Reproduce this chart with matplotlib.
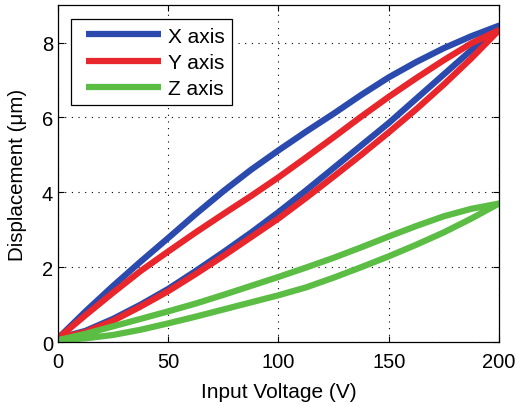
import numpy as np
import matplotlib
matplotlib.use('Agg')
import matplotlib.pyplot as plt
from matplotlib.legend_handler import HandlerLine2D

plt.rcParams['font.family'] = ['Liberation Sans', 'DejaVu Sans']

# voltage sweep, up branch then down branch
volt_up = [0, 12.5, 25, 37.5, 50, 62.5, 75, 87.5, 100, 112.5, 125, 137.5, 150, 162.5, 175, 187.5, 200]
volt_down = volt_up[::-1]

x_up = [0.1, 0.3, 0.62, 1.0, 1.42, 1.9, 2.4, 2.92, 3.47, 4.05, 4.65, 5.25, 5.85, 6.5, 7.15, 7.8, 8.45]
x_down = [8.45, 8.17, 7.85, 7.48, 7.07, 6.6, 6.1, 5.62, 5.12, 4.6, 4.03, 3.42, 2.78, 2.15, 1.5, 0.82, 0.1]

y_up = [0.1, 0.27, 0.57, 0.95, 1.36, 1.82, 2.3, 2.8, 3.3, 3.85, 4.42, 5.0, 5.6, 6.22, 6.88, 7.58, 8.33]
y_down = [8.33, 7.98, 7.53, 7.05, 6.55, 6.02, 5.47, 4.93, 4.4, 3.9, 3.42, 2.93, 2.42, 1.9, 1.32, 0.72, 0.1]

z_up = [0.05, 0.1, 0.19, 0.33, 0.5, 0.68, 0.87, 1.06, 1.25, 1.46, 1.72, 2.0, 2.29, 2.6, 2.93, 3.3, 3.7]
z_down = [3.7, 3.56, 3.36, 3.1, 2.82, 2.53, 2.25, 1.99, 1.74, 1.5, 1.26, 1.03, 0.82, 0.62, 0.42, 0.22, 0.05]

series = [('X axis', x_up, x_down, '#2b4aae'),
          ('Y axis', y_up, y_down, '#e8262b'),
          ('Z axis', z_up, z_down, '#5cbd45')]

fig = plt.figure(figsize=(5.16, 4.06), dpi=100)
ax = fig.add_axes([0.1124, 0.155, 0.8546, 0.830])

for name, up, down, col in series:
    ax.plot(volt_up + volt_down, up + down, color=col, lw=4.5, label=name,
            solid_joinstyle='round', solid_capstyle='butt')

ax.set_xlim(0, 200)
ax.set_ylim(0, 9)
ax.set_xticks([0, 50, 100, 150, 200])
ax.set_yticks([0, 2, 4, 6, 8])
ax.tick_params(direction='in', top=True, right=True, labelsize=14.5, length=4)
ax.tick_params(axis='x', pad=7)
ax.grid(True, color='black', linestyle=(0, (1, 5)), linewidth=0.8)
for s in ax.spines.values():
    s.set_linewidth(0.9)

ax.set_xlabel('Input Voltage (V)', fontsize=15, labelpad=8)
ax.set_ylabel('Displacement (\u03bcm)', fontsize=14.8, labelpad=11)

leg = ax.legend(loc='upper left', bbox_to_anchor=(0.0295, 0.958), fontsize=15,
                handlelength=3.95, fancybox=False, edgecolor='black',
                framealpha=1, borderpad=0.36, labelspacing=0.34, handletextpad=0.34,
                borderaxespad=0, handler_map={matplotlib.lines.Line2D: HandlerLine2D(xpad=0.35)})
leg.get_frame().set_linewidth(0.9)

plt.savefig('out.png', dpi=100)
